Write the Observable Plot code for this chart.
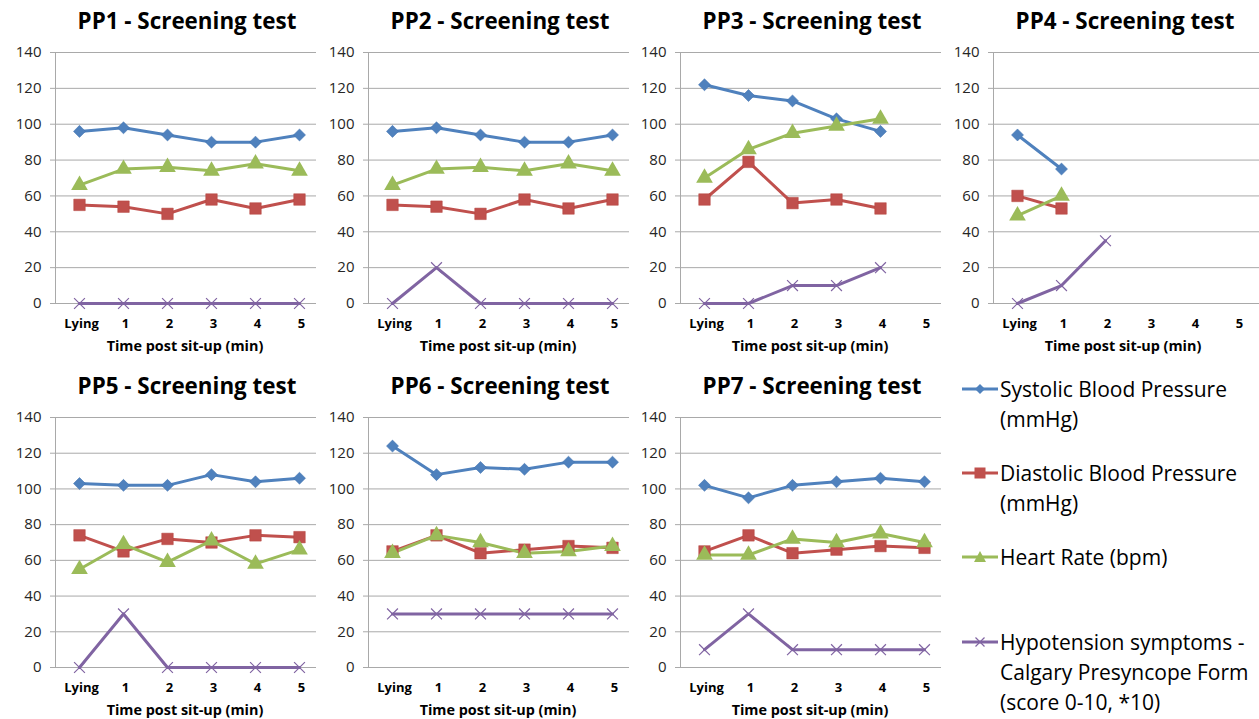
<!DOCTYPE html>
<html><head><meta charset="utf-8">
<script src="https://cdn.jsdelivr.net/npm/d3@7"></script>
<script src="https://cdn.jsdelivr.net/npm/@observablehq/plot@0.6"></script>
<style>
body{margin:0;background:#fff;}
#root{position:relative;width:1259px;height:719px;overflow:hidden;font-family:"Open Sans",Lato,sans-serif;background:#fff;}
.title{position:absolute;font-weight:bold;font-size:22.4px;line-height:24px;color:#000;text-align:center;white-space:nowrap;width:400px;}
.xt{position:absolute;font-weight:bold;font-size:14.4px;line-height:16px;color:#000;text-align:center;white-space:nowrap;width:300px;}
.panel{position:absolute;}
.leg{position:absolute;left:962px;font-size:21px;line-height:30px;color:#000;}
.leg svg{position:absolute;left:0;top:0;}
.leg div{position:absolute;left:38px;top:0;white-space:nowrap;}
</style></head>
<body><div id="root"></div>
<script>
// ---- data ----
const timeLabels = ["Lying", "1", "2", "3", "4", "5"];
const yTicks = [0, 20, 40, 60, 80, 100, 120, 140];
const panelTitles = ["PP1 - Screening test", "PP2 - Screening test", "PP3 - Screening test", "PP4 - Screening test",
                     "PP5 - Screening test", "PP6 - Screening test", "PP7 - Screening test"];
const xAxisTitle = "Time post sit-up (min)";
const seriesNames = ["Systolic Blood Pressure (mmHg)", "Diastolic Blood Pressure (mmHg)", "Heart Rate (bpm)",
                     "Hypotension symptoms - Calgary Presyncope Form (score 0-10, *10)"];
const legendLines = [["Systolic Blood Pressure", "(mmHg)"], ["Diastolic Blood Pressure", "(mmHg)"], ["Heart Rate (bpm)"],
                     ["Hypotension symptoms -", "Calgary Presyncope Form", "(score 0-10, *10)"]];
// one row per panel (PP1..PP7), one value per time point; null = not measured
const systolic = [
  [96, 98, 94, 90, 90, 94],
  [96, 98, 94, 90, 90, 94],
  [122, 116, 113, 103, 96, null],
  [94, 75, null, null, null, null],
  [103, 102, 102, 108, 104, 106],
  [124, 108, 112, 111, 115, 115],
  [102, 95, 102, 104, 106, 104]
];
const diastolic = [
  [55, 54, 50, 58, 53, 58],
  [55, 54, 50, 58, 53, 58],
  [58, 79, 56, 58, 53, null],
  [60, 53, null, null, null, null],
  [74, 65, 72, 70, 74, 73],
  [65, 74, 64, 66, 68, 67],
  [65, 74, 64, 66, 68, 67]
];
const heartRate = [
  [66, 75, 76, 74, 78, 74],
  [66, 75, 76, 74, 78, 74],
  [70, 86, 95, 99, 103, null],
  [49, 60, null, null, null, null],
  [55, 69, 59, 71, 58, 66],
  [64, 74, 70, 64, 65, 68],
  [63, 63, 72, 70, 75, 70]
];
const symptoms = [
  [0, 0, 0, 0, 0, 0],
  [0, 20, 0, 0, 0, 0],
  [0, 0, 10, 10, 20, null],
  [0, 10, 35, null, null, null],
  [0, 30, 0, 0, 0, 0],
  [30, 30, 30, 30, 30, 30],
  [10, 30, 10, 10, 10, 10]
];

// ---- styling ----
const colors = ["#4F81BD", "#C0504D", "#9BBB59", "#8064A2"];
const gridColor = "#a9a9a9";
const seriesArrays = [systolic, diastolic, heartRate, symptoms];
const panelLeft = [0, 313, 625, 938, 0, 313, 625];
const panelTop = [0, 0, 0, 0, 365, 365, 365];

const root = document.getElementById("root");

panelTitles.forEach((title, p) => {
  const rows = [];
  seriesArrays.forEach((arr, s) => {
    arr[p].forEach((v, i) => {
      if (v != null) rows.push({series: seriesNames[s], t: timeLabels[i], v});
    });
  });
  const bySeries = s => rows.filter(d => d.series === seriesNames[s]);
  const top = panelTop[p] === 0;
  const H = top ? 360 : 354;
  const W = p === 3 ? 321 : 316;
  const chart = Plot.plot({
    width: W, height: H,
    marginLeft: 55, marginRight: 0, marginTop: 52, marginBottom: top ? 57 : 52,
    style: {fontFamily: "'Open Sans', Lato, sans-serif", fontSize: "15px", background: "transparent", overflow: "visible"},
    x: {type: "point", domain: timeLabels, range: [78, 299], padding: 0},
    y: {domain: [0, 140]},
    color: {domain: seriesNames, range: colors},
    marks: [
      Plot.ruleY(yTicks, {stroke: gridColor, strokeWidth: 1}),
      Plot.frame({anchor: "left", stroke: gridColor}),
      Plot.axisY({ticks: yTicks, tickSize: 5, tickPadding: 9, stroke: gridColor, fill: "#262626", fontSize: 15, label: null}),
      Plot.axisX({tickSize: 0, tickPadding: 15, fontSize: 13, fontWeight: "bold", fill: "#000", label: null, dx: 2}),
      Plot.line(rows, {x: "t", y: "v", z: "series", stroke: "series", strokeWidth: 3, strokeLinejoin: "round"}),
      Plot.dot(bySeries(0), {x: "t", y: "v", symbol: "square", rotate: 45, r: 4.8, fill: colors[0], stroke: "#3c6fae", strokeWidth: 0.5}),
      Plot.dot(bySeries(1), {x: "t", y: "v", symbol: "square", r: 6.5, fill: colors[1], stroke: "#b5443f", strokeWidth: 0.5}),
      Plot.dot(bySeries(2), {x: "t", y: "v", symbol: "triangle", r: 6.2, fill: colors[2]}),
      Plot.dot(bySeries(3), {x: "t", y: "v", symbol: "times", r: 5, stroke: colors[3], strokeWidth: 1.2})
    ]
  });
  const div = document.createElement("div");
  div.className = "panel";
  div.style.left = panelLeft[p] + "px";
  div.style.top = panelTop[p] + "px";
  div.appendChild(chart);
  root.appendChild(div);

  const t = document.createElement("div");
  t.className = "title";
  t.textContent = title;
  t.style.left = (panelLeft[p] + 187 - 200) + "px";
  t.style.top = (top ? 9 : 374) + "px";
  root.appendChild(t);

  const xt = document.createElement("div");
  xt.className = "xt";
  xt.textContent = xAxisTitle;
  xt.style.left = (panelLeft[p] + 185 - 150) + "px";
  xt.style.top = (top ? 338 : 702) + "px";
  root.appendChild(xt);
});

// legend
const legTops = [374, 458, 542, 627];
const symbolPaths = [
  '<path d="M18,10 L23,15 L18,20 L13,15 Z" fill="#4F81BD"/>',
  '<rect x="12.5" y="9.5" width="11" height="11" fill="#C0504D"/>',
  '<path d="M18,9 L24,20 L12,20 Z" fill="#9BBB59"/>',
  '<path d="M13.5,10.5 L22.5,19.5 M22.5,10.5 L13.5,19.5" stroke="#8064A2" stroke-width="1.2" fill="none"/>'
];
legendLines.forEach((lines, s) => {
  const g = document.createElement("div");
  g.className = "leg";
  g.style.top = legTops[s] + "px";
  g.innerHTML = `<svg width="36" height="30"><line x1="0" x2="36" y1="15" y2="15" stroke="${colors[s]}" stroke-width="3"/>${symbolPaths[s]}</svg>` +
    `<div>${lines.join("<br>")}</div>`;
  root.appendChild(g);
});
</script>
</body></html>
